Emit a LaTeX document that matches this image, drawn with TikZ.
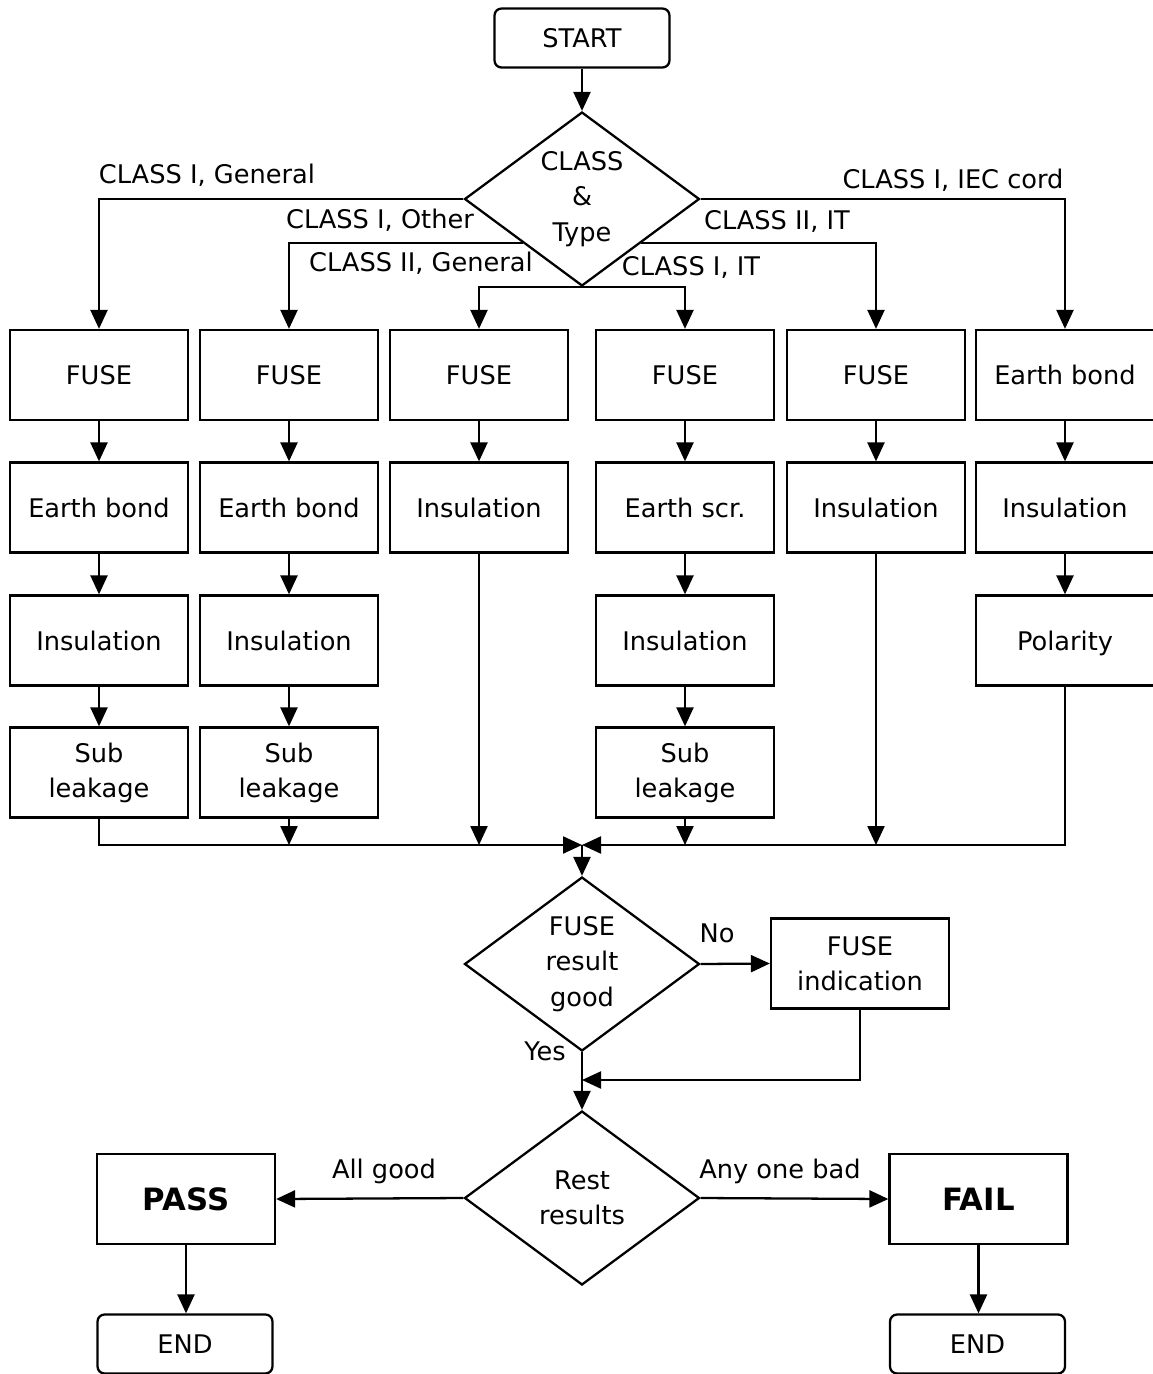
\documentclass[tikz,border=0pt]{standalone}
\usepackage{fontspec}
\setmainfont{DejaVu Sans}
\usetikzlibrary{shapes.geometric,arrows.meta}

\begin{document}
\begin{tikzpicture}[x=0.02cm, y=-0.02cm, line width=1.3pt,
	font=\fontsize{14.6}{20}\selectfont,
	>={Triangle[length=0.38cm,width=0.34cm]},
	box/.style={draw, minimum width=3.56cm, minimum height=1.8cm, align=center, inner sep=0pt},
	term/.style={draw, rounded corners=4pt, minimum width=3.5cm, minimum height=1.18cm},
	decide/.style={draw, diamond, aspect=1.34, inner sep=0pt, align=center,
		minimum width=4.7cm, minimum height=3.48cm},
	lbl/.style={inner sep=0pt, text height=1.6ex, text depth=.4ex},
	big/.style={font=\fontsize{17.5}{20}\selectfont\bfseries}]
	\useasboundingbox (0,0) rectangle (1153,1374);

	\node[term] (start) at (582,38) {START};
	\node[decide] (cls) at (582,199) {CLASS\\\&\\Type};

	\node[box] (f1) at (99,375) {FUSE};
	\node[box] (f2) at (289,375) {FUSE};
	\node[box] (f3) at (479,375) {FUSE};
	\node[box] (f4) at (685,375) {FUSE};
	\node[box] (f5) at (876,375) {FUSE};
	\node[box] (e6) at (1065,375) {Earth bond};

	\node[box] (e1) at (99,507.5) {Earth bond};
	\node[box] (e2) at (289,507.5) {Earth bond};
	\node[box] (i3) at (479,507.5) {Insulation};
	\node[box] (r4) at (685,507.5) {Earth scr.};
	\node[box] (i5) at (876,507.5) {Insulation};
	\node[box] (i6) at (1065,507.5) {Insulation};

	\node[box] (i1) at (99,640.5) {Insulation};
	\node[box] (i2) at (289,640.5) {Insulation};
	\node[box] (i4) at (685,640.5) {Insulation};
	\node[box, text depth=0pt] (p6) at (1065,640.5) {Polarity};

	\node[box] (s1) at (99,772.5) {Sub\\leakage};
	\node[box] (s2) at (289,772.5) {Sub\\leakage};
	\node[box] (s4) at (685,772.5) {Sub\\leakage};

	\coordinate (mrg) at (582,845);
	\node[decide] (fd) at (582,964) {FUSE\\result\\good};
	\node[box] (ind) at (860,963.5) {FUSE\\indication};
	\coordinate (join) at (582,1080);
	\node[decide] (rd) at (582,1198) {Rest\\results};
	\node[box, big] (pass) at (186,1199) {PASS};
	\node[box, big] (fail) at (978.5,1199) {FAIL};
	\node[term] (end1) at (185,1344) {END};
	\node[term] (end2) at (977.5,1344) {END};

	\node[lbl] (gen1) at (207,178) {CLASS I, General};
	\node[lbl] (oth1) at (380,223) {CLASS I, Other};
	\node[lbl] (gen2) at (421,266) {CLASS II, General};
	\node[lbl] (it1) at (691,270) {CLASS I, IT};
	\node[lbl] (it2) at (777,224) {CLASS II, IT};
	\node[lbl] (iec1) at (953,183) {CLASS I, IEC cord};
	\node[lbl] (no) at (717,937) {No};
	\node[lbl] (yes) at (545,1055) {Yes};
	\node[lbl] (allgood) at (384,1173) {All good};
	\node[lbl] (anybad) at (780,1173) {Any one bad};

	\draw[->] (start) -- (cls);
	\draw[->] (cls.west) -| (f1.north);
	\draw[->] (cls.south west) -| (f2.north);
	\draw[->] (cls.south) -| (f3.north);
	\draw[->] (cls.south) -| (f4.north);
	\draw[->] (cls.south east) -| (f5.north);
	\draw[->] (cls.east) -| (e6.north);

	\draw[->] (f1) -- (e1);
	\draw[->] (e1) -- (i1);
	\draw[->] (i1) -- (s1);
	\draw[->] (f2) -- (e2);
	\draw[->] (e2) -- (i2);
	\draw[->] (i2) -- (s2);
	\draw[->] (f3) -- (i3);
	\draw[->] (f4) -- (r4);
	\draw[->] (r4) -- (i4);
	\draw[->] (i4) -- (s4);
	\draw[->] (f5) -- (i5);
	\draw[->] (e6) -- (i6);
	\draw[->] (i6) -- (p6);

	\draw[->] (s1.south) |- (mrg);
	\draw[->] (p6.south) |- (mrg);
	\draw[->] (s2.south) -- (s2.south |- mrg);
	\draw[->] (i3.south) -- (i3.south |- mrg);
	\draw[->] (s4.south) -- (s4.south |- mrg);
	\draw[->] (i5.south) -- (i5.south |- mrg);
	\draw[->] (mrg) -- (fd.north);

	\draw[->] (fd.east) -- (ind.west);
	\draw[->] (ind.south) |- (join);
	\draw[->] (fd.south) -- (rd.north);
	\draw[->] (rd.west) -- (pass.east);
	\draw[->] (rd.east) -- (fail.west);
	\draw[->] (pass.south) -- (pass.south |- end1.north);
	\draw[->] (fail.south) -- (fail.south |- end2.north);
\end{tikzpicture}
\end{document}
